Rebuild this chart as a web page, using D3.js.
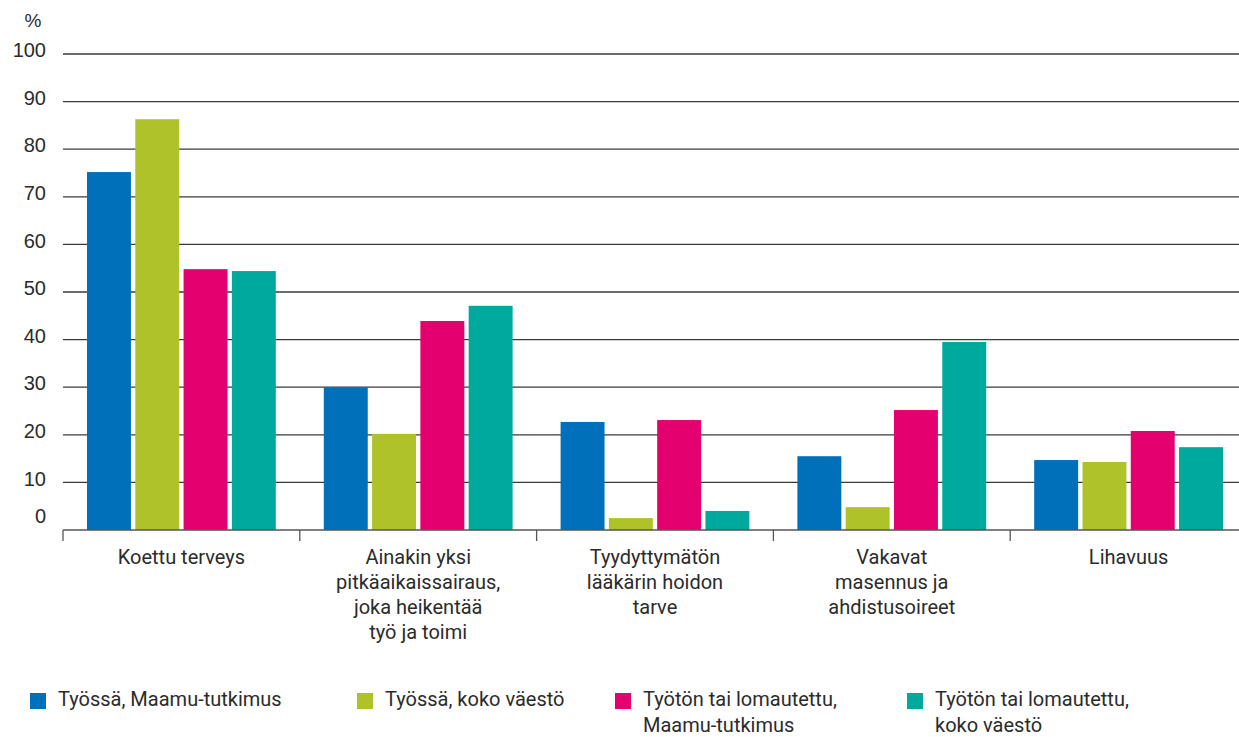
<!DOCTYPE html>
<html>
<head>
<meta charset="utf-8">
<script src="https://cdn.jsdelivr.net/npm/d3@7"></script>
<style>
    body { margin: 0; background: #fff; }
    svg { display: block; font-family: Roboto, "Liberation Sans", sans-serif; }
</style>
</head>
<body>
<svg id="chart" width="1239" height="737"></svg>
<script>
// categories (each label split into its lines)
const categories = [
    ["Koettu terveys"],
    ["Ainakin yksi", "pitkäaikaissairaus,", "joka heikentää", "työ ja toimi"],
    ["Tyydyttymätön", "lääkärin hoidon", "tarve"],
    ["Vakavat", "masennus ja", "ahdistusoireet"],
    ["Lihavuus"]
];

const seriesNames = [
    ["Työssä, Maamu-tutkimus"],
    ["Työssä, koko väestö"],
    ["Työtön tai lomautettu,", "Maamu-tutkimus"],
    ["Työtön tai lomautettu,", "koko väestö"]
];

const seriesColors = ["#0070ba", "#afc229", "#e5006f", "#00a99d"];

// values per series, in category order
const tyossaMaamu = [75.2, 30.0, 22.7, 15.5, 14.7];
const tyossaKoko = [86.3, 20.2, 2.5, 4.8, 14.3];
const tyotonMaamu = [54.8, 43.9, 23.1, 25.2, 20.8];
const tyotonKoko = [54.4, 47.1, 4.0, 39.5, 17.4];

const yTicks = [0, 10, 20, 30, 40, 50, 60, 70, 80, 90, 100];

const seriesValues = [tyossaMaamu, tyossaKoko, tyotonMaamu, tyotonKoko];

const svg = d3.select("#chart");
const textColor = "#2b2b2b";

const x0 = d3.scaleBand()
    .domain(d3.range(categories.length))
    .range([63, 1247])
    .padding(0);

const x1 = d3.scaleBand()
    .domain(d3.range(seriesValues.length))
    .range([24, x0.bandwidth() - 24])
    .paddingInner(0.09);

const y = d3.scaleLinear()
    .domain([0, 100])
    .range([530, 54]);

// gridlines
svg.append("g")
    .selectAll("line")
    .data(yTicks.filter(d => d > 0))
    .enter()
    .append("line")
    .attr("x1", 63)
    .attr("x2", 1239)
    .attr("y1", d => y(d))
    .attr("y2", d => y(d))
    .attr("stroke", "#3a3a3a")
    .attr("stroke-width", 1.3);

// y labels
svg.append("g")
    .selectAll("text")
    .data(yTicks)
    .enter()
    .append("text")
    .attr("x", 46)
    .attr("y", d => y(d) + (d === 0 ? -12 : -2))
    .attr("text-anchor", "end")
    .attr("dominant-baseline", "middle")
    .attr("font-family", "'Liberation Sans', Arial, sans-serif")
    .attr("font-size", 20)
    .attr("fill", textColor)
    .text(d => d);

svg.append("text")
    .attr("x", 33)
    .attr("y", 22)
    .attr("text-anchor", "middle")
    .attr("dominant-baseline", "middle")
    .attr("font-family", "'Liberation Sans', Arial, sans-serif")
    .attr("font-size", 19)
    .attr("fill", textColor)
    .text("%");

// bars
const groups = svg.append("g")
    .selectAll("g")
    .data(categories.map((c, i) => i))
    .enter()
    .append("g")
    .attr("transform", i => "translate(" + x0(i) + ",0)");

groups.selectAll("rect")
    .data(i => seriesValues.map((vals, s) => ({ s: s, v: vals[i] })))
    .enter()
    .append("rect")
    .attr("x", d => x1(d.s))
    .attr("width", x1.bandwidth())
    .attr("y", d => y(d.v))
    .attr("height", d => y(0) - y(d.v))
    .attr("fill", d => seriesColors[d.s]);

// x axis baseline and group ticks
svg.append("line")
    .attr("x1", 63)
    .attr("x2", 1239)
    .attr("y1", y(0))
    .attr("y2", y(0))
    .attr("stroke", "#555")
    .attr("stroke-width", 1.3);

svg.append("g")
    .selectAll("line")
    .data(d3.range(categories.length))
    .enter()
    .append("line")
    .attr("x1", i => x0(i))
    .attr("x2", i => x0(i))
    .attr("y1", y(0))
    .attr("y2", y(0) + 11)
    .attr("stroke", "#555")
    .attr("stroke-width", 1.3);

// category labels
const catLabels = svg.append("g")
    .selectAll("text")
    .data(categories)
    .enter()
    .append("text")
    .attr("text-anchor", "middle")
    .attr("font-size", 20)
    .attr("fill", textColor);

catLabels.selectAll("tspan")
    .data((lines, i) => lines.map((l, k) => ({ l: l, k: k, i: i })))
    .enter()
    .append("tspan")
    .attr("x", d => x0(d.i) + x0.bandwidth() / 2)
    .attr("y", d => 559 + d.k * 25)
    .attr("dominant-baseline", "middle")
    .text(d => d.l);

// legend
const legendX = [30, 357, 615, 907];
const legend = svg.append("g")
    .selectAll("g")
    .data(seriesNames)
    .enter()
    .append("g")
    .attr("transform", (d, i) => "translate(" + legendX[i] + ",0)");

legend.append("rect")
    .attr("x", 0)
    .attr("y", 693)
    .attr("width", 16)
    .attr("height", 16)
    .attr("fill", (d, i) => seriesColors[i]);

legend.append("text")
    .attr("font-size", 20)
    .attr("fill", textColor)
    .selectAll("tspan")
    .data(d => d)
    .enter()
    .append("tspan")
    .attr("x", 28)
    .attr("y", (d, k) => 701 + k * 26)
    .attr("dominant-baseline", "middle")
    .text(d => d);
</script>
</body>
</html>
